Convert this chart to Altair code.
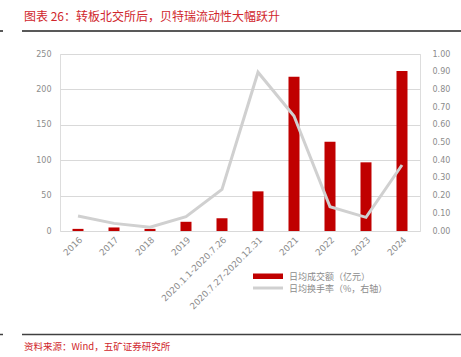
import altair as alt
import pandas as pd

categories = ["2016", "2017", "2018", "2019", "2020.1.1-2020.7.26", "2020.7.27-2020.12.31",
              "2021", "2022", "2023", "2024"]
turnover_amount = [3, 5, 3, 13, 18, 56, 218, 126, 97, 226]
turnover_rate = [0.085, 0.043, 0.021, 0.081, 0.235, 0.897, 0.65, 0.137, 0.077, 0.373]

title_text = "图表 26：转板北交所后，贝特瑞流动性大幅跃升"
source_text = "资料来源：Wind，五矿证券研究所"
legend_bar = "日均成交额（亿元）"
legend_line = "日均换手率（%，右轴）"

df = pd.DataFrame({"cat": categories, "amt": turnover_amount, "rate": turnover_rate})
dummy = pd.DataFrame({"a": [0]})

FONT = "Noto Sans CJK SC"
NUMFONT = "DejaVu Sans"
RED = "#C00000"
GRAY_TXT = "#8C8C8C"

xenc = alt.X("cat:N", sort=categories, title=None,
             axis=alt.Axis(labelAngle=-45, labelFontSize=8.8, labelColor=GRAY_TXT, labelFont=NUMFONT,
                           domain=False, ticks=False, labelPadding=4, labelLimit=200))

bars = alt.Chart(df).mark_bar(color=RED, size=11).encode(
    x=xenc,
    y=alt.Y("amt:Q", scale=alt.Scale(domain=[0, 250], nice=False), title=None,
            axis=alt.Axis(orient="left", values=[0, 50, 100, 150, 200, 250], labelFontSize=8,
                          labelColor=GRAY_TXT, labelFont=NUMFONT, domain=False, ticks=False,
                          gridColor="#D9D9D9", gridWidth=1, labelPadding=9)),
)

line = alt.Chart(df).mark_line(color="#D0D0D0", strokeWidth=3).encode(
    x=alt.X("cat:N", sort=categories),
    y=alt.Y("rate:Q", scale=alt.Scale(domain=[0, 1], nice=False), title=None,
            axis=alt.Axis(orient="right", values=[i / 10 for i in range(11)], format=".2f",
                          labelFontSize=8, labelColor=GRAY_TXT, labelFont=NUMFONT, domain=False,
                          ticks=False, grid=False, labelPadding=12)),
)

base = alt.Chart(dummy)

title = base.mark_text(text=title_text, font=FONT, fontSize=12, color="#D0262C",
                       align="left", baseline="middle").encode(
    x=alt.value(-36), y=alt.value(-37))
source = base.mark_text(text=source_text, font=FONT, fontSize=9.5, color="#D0262C",
                        align="left", baseline="middle").encode(
    x=alt.value(-36), y=alt.value(293))
top_rule = base.mark_rule(color="#595959", strokeWidth=2).encode(
    x=alt.value(-38), x2=alt.value(401), y=alt.value(-23))
top_tick = base.mark_rule(color="#595959", strokeWidth=2).encode(
    x=alt.value(-60), x2=alt.value(-57), y=alt.value(-23))
bot_rule = base.mark_rule(color="#404040", strokeWidth=1.5).encode(
    x=alt.value(-38), x2=alt.value(401), y=alt.value(280.5))
bot_tick = base.mark_rule(color="#404040", strokeWidth=1.5).encode(
    x=alt.value(-60), x2=alt.value(-57), y=alt.value(280.5))

leg_rect = base.mark_rect(color=RED).encode(
    x=alt.value(193), x2=alt.value(223), y=alt.value(219.5), y2=alt.value(225))
leg_line = base.mark_rule(color="#D0D0D0", strokeWidth=3).encode(
    x=alt.value(193), x2=alt.value(223), y=alt.value(234))
leg_t1 = base.mark_text(text=legend_bar, font=FONT, fontSize=9, color=GRAY_TXT,
                        align="left", baseline="middle").encode(x=alt.value(229), y=alt.value(222.5))
leg_t2 = base.mark_text(text=legend_line, font=FONT, fontSize=9, color=GRAY_TXT,
                        align="left", baseline="middle").encode(x=alt.value(229), y=alt.value(234.5))

chart = alt.layer(bars, line, title, source, top_rule, top_tick, bot_rule, bot_tick,
                  leg_rect, leg_line, leg_t1, leg_t2).resolve_scale(y="independent").properties(
    width=360, height=177,
    autosize=alt.AutoSizeParams(type="none"),
    padding={"left": 60, "top": 54, "right": 41, "bottom": 126},
).configure_view(stroke=None).configure(background="white")

chart.save("out.html", embed_options={"renderer": "svg", "actions": False})
